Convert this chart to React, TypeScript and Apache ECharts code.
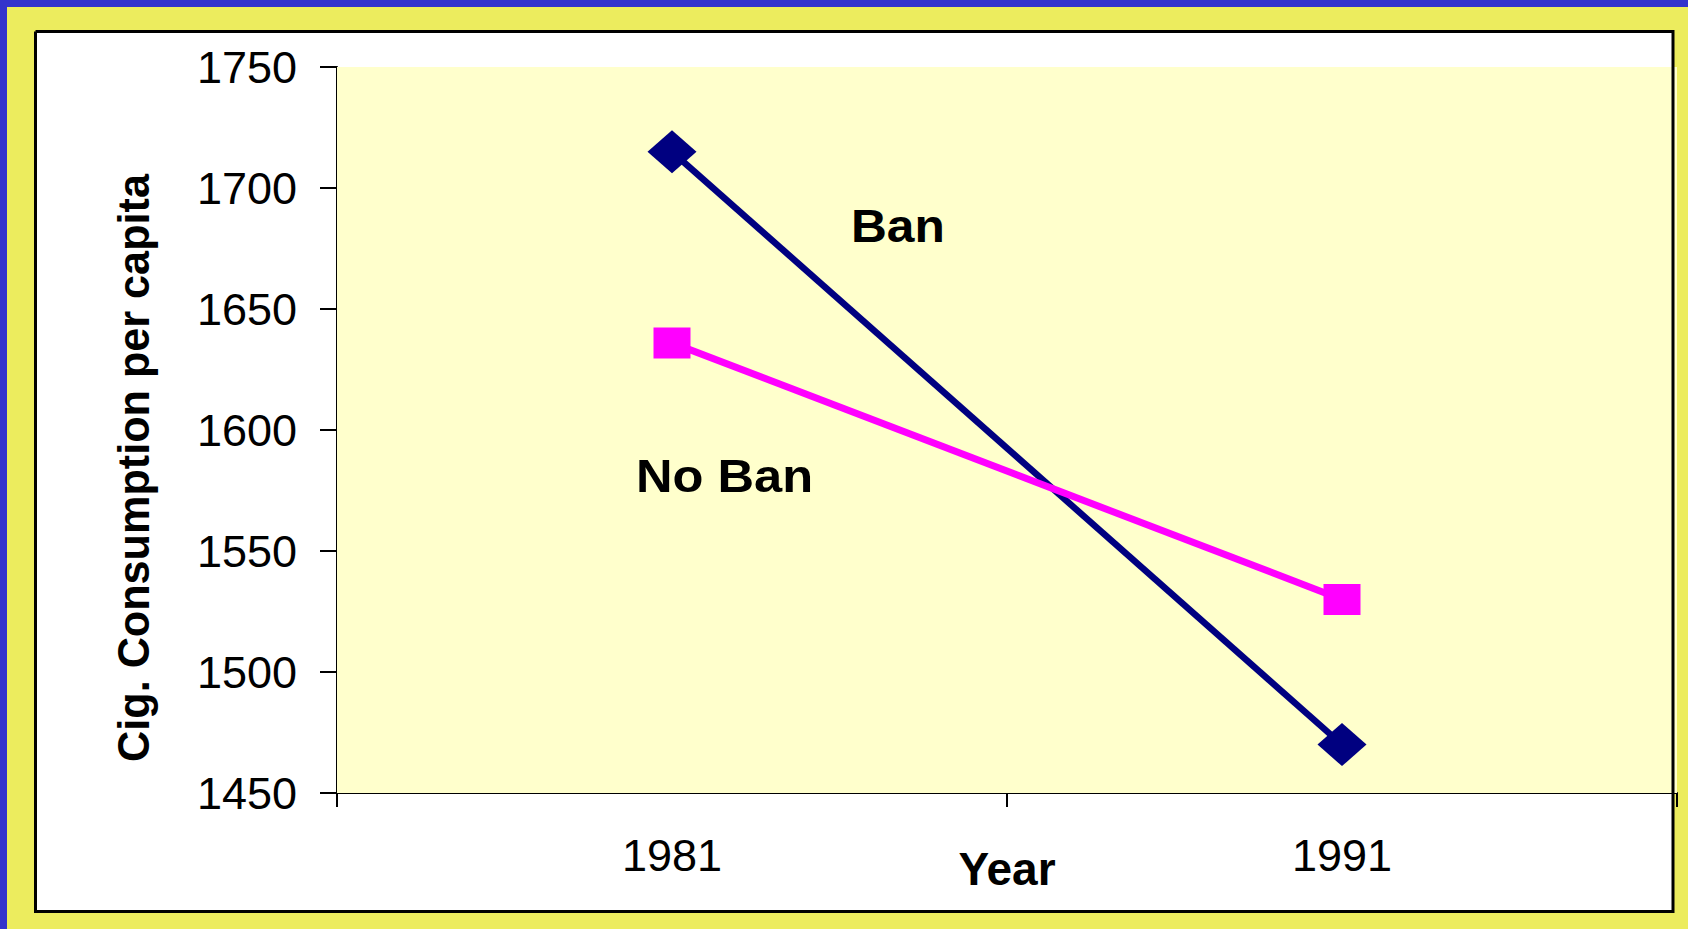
import React, { useEffect, useRef } from "react";
import * as echarts from "echarts";

const categories = ["1981", "1991"];
const banValues = [1715, 1470];
const noBanValues = [1636, 1530];
const yMin = 1450;
const yMax = 1750;
const yInterval = 50;

const FONT = "Liberation Sans, Arial, sans-serif";

export default function App() {
  const ref = useRef<HTMLDivElement>(null);
  useEffect(() => {
    if (!ref.current) return;
    const chart = echarts.init(ref.current, undefined, { renderer: "svg" });
    chart.setOption({
      animation: false,
      backgroundColor: "#ECEC5E",
      grid: {
        left: 337,
        right: 11,
        top: 67,
        bottom: 136,
        show: true,
        backgroundColor: "#FFFFCC",
        borderWidth: 0,
        containLabel: false,
        outerBoundsMode: "none",
        z: 1,
      },
      xAxis: {
        type: "category",
        data: categories,
        boundaryGap: true,
        name: "Year",
        nameLocation: "middle",
        nameGap: 53,
        nameMoveOverlap: false,
        nameTextStyle: { fontFamily: FONT, fontSize: 46, fontWeight: "bold", color: "#000" },
        axisLine: { show: true, lineStyle: { color: "#000", width: 2 } },
        axisTick: { show: true, length: 14, lineStyle: { color: "#000", width: 2 } },
        axisLabel: { fontFamily: FONT, fontSize: 45, color: "#000", margin: 40 },
        splitLine: { show: false },
      },
      yAxis: {
        type: "value",
        min: yMin,
        max: yMax,
        interval: yInterval,
        axisLine: { show: true, lineStyle: { color: "#000", width: 2 } },
        axisTick: { show: true, length: 17, inside: false, lineStyle: { color: "#000", width: 2 } },
        axisLabel: {
          fontFamily: FONT,
          fontSize: 45,
          color: "#000",
          margin: 40,
          padding: [0, 0, 5, 0],
          formatter: (v: number) => String(v),
        },
        splitLine: { show: false },
      },
      series: [
        {
          name: "Ban",
          type: "line",
          data: banValues,
          symbol: "diamond",
          symbolSize: [49, 43],
          lineStyle: { color: "#000080", width: 6.5 },
          itemStyle: { color: "#000080" },
          z: 3,
        },
        {
          name: "No Ban",
          type: "line",
          data: noBanValues,
          symbol: "rect",
          symbolSize: [37, 31],
          lineStyle: { color: "#FF00FF", width: 7 },
          itemStyle: { color: "#FF00FF" },
          z: 4,
        },
      ],
      graphic: [
        { type: "rect", z: -10, shape: { x: 0, y: 0, width: 1688, height: 7 }, style: { fill: "#3333CC" } },
        { type: "rect", z: -10, shape: { x: 0, y: 0, width: 7, height: 929 }, style: { fill: "#3333CC" } },
        { type: "rect", z: -9, shape: { x: 35.5, y: 31.5, width: 1637, height: 880 }, style: { fill: "#FFFFFF" } },
        {
          type: "polyline",
          z: 50,
          shape: { points: [[35.5, 31.5], [1673, 31.5], [1673, 911.5], [35.5, 911.5], [35.5, 31.5]] },
          style: { stroke: "#000", lineWidth: 3, fill: null },
        },
        {
          type: "text",
          z: 60,
          x: 851,
          y: 226,
          scaleX: 1.08,
          style: { text: "Ban", fontFamily: FONT, fontSize: 46, fontWeight: "bold", fill: "#000", align: "left", verticalAlign: "middle" },
        },
        {
          type: "text",
          z: 60,
          x: 636,
          y: 476,
          scaleX: 1.1,
          style: { text: "No Ban", fontFamily: FONT, fontSize: 46, fontWeight: "bold", fill: "#000", align: "left", verticalAlign: "middle" },
        },
        {
          type: "text",
          z: 60,
          x: 133,
          y: 468,
          rotation: Math.PI / 2,
          scaleX: 0.96,
          style: {
            text: "Cig. Consumption per capita",
            fontFamily: FONT,
            fontSize: 45,
            fontWeight: "bold",
            fill: "#000",
            align: "center",
            verticalAlign: "middle",
          },
        },
      ],
    });
    return () => chart.dispose();
  }, []);
  return (
    <div
      ref={ref}
      style={{ position: "fixed", left: 0, top: 0, width: 1688, height: 929 }}
    />
  );
}
